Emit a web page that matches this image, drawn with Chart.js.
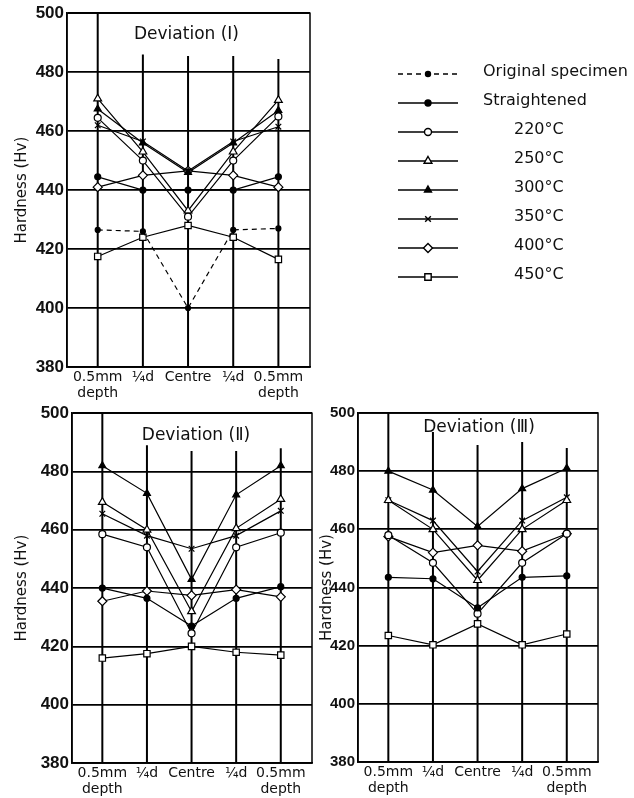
<!DOCTYPE html>
<html>
<head>
<meta charset="utf-8">
<script src="https://cdn.jsdelivr.net/npm/chart.js@4.4.1/dist/chart.umd.min.js"></script>
<style>
  html, body { margin: 0; padding: 0; background: #fff; }
  #wrap { position: relative; width: 634px; height: 798px; overflow: hidden; }
  canvas { position: absolute; }
</style>
</head>
<body>
<div id="wrap">
  <canvas id="devI" style="left:0;top:0" width="634" height="400"></canvas>
  <canvas id="devII" style="left:0;top:400px" width="318" height="398"></canvas>
  <canvas id="devIII" style="left:300px;top:400px" width="334" height="398"></canvas>
</div>
<script>
// measuring positions across the bar
const positions = [['0.5mm', 'depth'], '¼d', 'Centre', '¼d', ['0.5mm', 'depth']];
const hardnessTicks = [380, 400, 420, 440, 460, 480, 500];
const seriesNames = ['Original specimen', 'Straightened', '220°C', '250°C', '300°C', '350°C', '400°C', '450°C'];

// Deviation (I)
const devI_original     = [426.5, 426, 400, 426.5, 427];
const devI_straightened = [444.5, 440, 440, 440, 444.5];
const devI_220 = [464.5, 450, 431, 450, 465];
const devI_250 = [471, 453, 433, 453, 470.5];
const devI_300 = [467.5, 456, 446, 456, 467];
const devI_350 = [462, 456.5, 446.5, 456.5, 461.5];
const devI_400 = [441, 445, 446.5, 445, 441];
const devI_450 = [417.5, 424, 428, 424, 416.5];
const stemTopI = [500, 486, 485.5, 485.5, 484.5];

// Deviation (II)
const devII_straightened = [440, 436.5, 427, 436.5, 440.5];
const devII_220 = [458.5, 454, 424.5, 454, 459];
const devII_250 = [469.5, 460, 432, 460.5, 470.5];
const devII_300 = [482, 472.5, 443, 472, 482];
const devII_350 = [465.5, 458, 453.5, 458, 466.5];
const devII_400 = [435.5, 439, 437.5, 439.5, 437];
const devII_450 = [416, 417.5, 420, 418, 417];
const stemTopII = [500, 489, 487, 487, 488];

// Deviation (III)
const devIII_straightened = [443.5, 443, 433, 443.5, 444];
const devIII_220 = [458, 448.5, 431, 448.5, 458.5];
const devIII_250 = [470, 460, 442.5, 460, 470];
const devIII_300 = [480, 473.5, 461, 474, 481];
const devIII_350 = [470, 463, 445.5, 463, 471];
const devIII_400 = [457.5, 452, 454.5, 452.5, 458.5];
const devIII_450 = [423.5, 420.3, 427.5, 420.3, 424];
const stemTopIII = [500, 493.5, 489, 490, 488];

const markerStyles = {
  'Original specimen': { pointStyle: 'circle', radius: 2.5, filled: true, dash: [5, 4] },
  'Straightened': { pointStyle: 'circle', radius: 3, filled: true, dash: [] },
  '220°C': { pointStyle: 'circle', radius: 3.5, filled: false, dash: [] },
  '250°C': { pointStyle: 'triangle', radius: 4.5, filled: false, dash: [] },
  '300°C': { pointStyle: 'triangle', radius: 4, filled: true, dash: [] },
  '350°C': { pointStyle: 'crossRot', radius: 4, filled: false, dash: [] },
  '400°C': { pointStyle: 'rectRot', radius: 4.5, filled: false, dash: [] },
  '450°C': { pointStyle: 'rect', radius: 4.5, filled: false, dash: [] }
};

const handFont = "'DejaVu Sans', sans-serif";
const numFont = "'Liberation Sans', Arial, sans-serif";

const panelDecor = {
  id: 'panelDecor',
  beforeDatasetsDraw(chart, args, opts) {
    const { ctx, chartArea: a, scales: { x, y } } = chart;
    ctx.save();
    ctx.strokeStyle = '#000';
    ctx.lineWidth = 2;
    opts.stems.forEach((top, i) => {
      const px = x.getPixelForValue(i);
      ctx.beginPath();
      ctx.moveTo(px, y.getPixelForValue(top));
      ctx.lineTo(px, a.bottom);
      ctx.stroke();
    });
    ctx.lineWidth = 1.5;
    ctx.strokeRect(a.left, a.top, a.right - a.left, a.bottom - a.top);
    ctx.fillStyle = '#111';
    ctx.font = '17px ' + handFont;
    ctx.textAlign = 'center';
    ctx.textBaseline = 'middle';
    ctx.fillText(opts.title, (a.left + a.right) / 2 + opts.titleDx, a.top + opts.titleDy);
    ctx.restore();
  }
};

const keyPlugin = {
  id: 'keyPlugin',
  afterDraw(chart) {
    const ctx = chart.ctx;
    ctx.save();
    seriesNames.forEach((name, i) => {
      const st = markerStyles[name];
      const yy = 74 + i * 29;
      ctx.strokeStyle = '#000';
      ctx.lineWidth = 1.4;
      ctx.setLineDash(st.dash);
      ctx.beginPath();
      ctx.moveTo(398, yy);
      ctx.lineTo(458, yy);
      ctx.stroke();
      ctx.setLineDash([]);
      ctx.fillStyle = st.filled ? '#000' : '#fff';
      Chart.helpers.drawPoint(ctx, { pointStyle: st.pointStyle, radius: st.radius, borderWidth: 1.2, rotation: 0 }, 428, yy);
      ctx.fillStyle = '#111';
      ctx.font = '16px ' + handFont;
      ctx.textBaseline = 'middle';
      ctx.textAlign = 'left';
      ctx.fillText(name, i < 2 ? 483 : 514, yy - 2);
    });
    ctx.restore();
  }
};

function buildDatasets(list) {
  return list.map(([name, values]) => {
    const st = markerStyles[name];
    return {
      label: name,
      data: values.map((v, i) => ({ x: i, y: v })),
      borderColor: '#000',
      borderWidth: 1.2,
      borderDash: st.dash,
      pointStyle: st.pointStyle,
      pointRadius: st.radius,
      pointBackgroundColor: st.filled ? '#000' : '#fff',
      pointBorderColor: '#000',
      pointBorderWidth: 1.2,
      tension: 0,
      fill: false
    };
  });
}

function makePanel(p) {
  return new Chart(document.getElementById(p.id), {
    type: 'line',
    data: { datasets: buildDatasets(p.series) },
    options: {
      responsive: false,
      animation: false,
      layout: { padding: { left: 0, right: p.box.right, top: p.box.top, bottom: 0 }, autoPadding: false },
      plugins: {
        legend: { display: false },
        tooltip: { enabled: false },
        panelDecor: { stems: p.stems, title: p.title, titleDx: p.titleDx, titleDy: p.titleDy }
      },
      scales: {
        x: {
          type: 'linear',
          min: -0.68,
          max: 4.7,
          afterBuildTicks: s => { s.ticks = positions.map((_, i) => ({ value: i })); },
          afterFit: s => { s.height = p.box.bottom; },
          grid: { display: false, drawTicks: false },
          border: { color: '#000', width: 1.5 },
          ticks: {
            callback: v => positions[v],
            font: { family: handFont, size: 14, lineHeight: 1.1 },
            color: '#111',
            padding: 3,
            maxRotation: 0,
            autoSkip: false
          }
        },
        y: {
          min: 380,
          max: 500,
          afterBuildTicks: s => { s.ticks = hardnessTicks.map(v => ({ value: v })); },
          afterFit: s => { s.width = p.box.left; },
          grid: { color: '#000', lineWidth: 1.8, drawTicks: false },
          border: { color: '#000', width: 1.5 },
          ticks: { font: { family: numFont, size: p.numSize, weight: 'bold' }, color: '#111', padding: 3 },
          title: {
            display: true,
            text: 'Hardness (Hv)',
            font: { family: handFont, size: 15 },
            color: '#111',
            padding: { top: p.titlePad, bottom: 0 }
          }
        }
      }
    },
    plugins: p.legend ? [panelDecor, keyPlugin] : [panelDecor]
  });
}

makePanel({
  id: 'devI', title: 'Deviation (Ⅰ)', titleDx: -2, titleDy: 21, stems: stemTopI, legend: true,
  box: { left: 67, right: 324, top: 12, bottom: 33 }, titlePad: 13, numSize: 17,
  series: [
    ['Original specimen', devI_original], ['Straightened', devI_straightened],
    ['220°C', devI_220], ['250°C', devI_250], ['300°C', devI_300],
    ['350°C', devI_350], ['400°C', devI_400], ['450°C', devI_450]
  ]
});

makePanel({
  id: 'devII', title: 'Deviation (Ⅱ)', titleDx: 4, titleDy: 22, stems: stemTopII, legend: false,
  box: { left: 72, right: 6, top: 10, bottom: 35 }, titlePad: 13, numSize: 17,
  series: [
    ['Straightened', devII_straightened], ['220°C', devII_220], ['250°C', devII_250],
    ['300°C', devII_300], ['350°C', devII_350], ['400°C', devII_400], ['450°C', devII_450]
  ]
});

makePanel({
  id: 'devIII', title: 'Deviation (Ⅲ)', titleDx: 1, titleDy: 15, stems: stemTopIII, legend: false,
  box: { left: 58, right: 36, top: 13, bottom: 36 }, titlePad: 18, numSize: 15,
  series: [
    ['Straightened', devIII_straightened], ['220°C', devIII_220], ['250°C', devIII_250],
    ['300°C', devIII_300], ['350°C', devIII_350], ['400°C', devIII_400], ['450°C', devIII_450]
  ]
});
</script>
</body>
</html>
